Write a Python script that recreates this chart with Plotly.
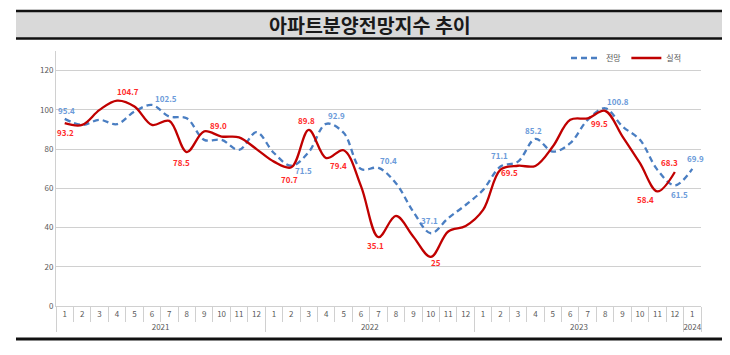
import plotly.graph_objects as go

# ---------------- data ----------------
years = ["2021"] * 12 + ["2022"] * 12 + ["2023"] * 12 + ["2024"]
months = ["1", "2", "3", "4", "5", "6", "7", "8", "9", "10", "11", "12",
          "1", "2", "3", "4", "5", "6", "7", "8", "9", "10", "11", "12",
          "1", "2", "3", "4", "5", "6", "7", "8", "9", "10", "11", "12",
          "1"]

forecast = [95.4, 92.3, 94.9, 92.7, 99.1, 102.5, 96.6, 95.7, 84.7, 84.7, 79.6, 88.6,
            78.0, 71.5, 78.5, 92.9, 88.3, 69.8, 70.4, 62.6, 48.0, 37.1, 44.8, 51.5,
            59.2, 71.1, 73.6, 85.2, 78.7, 83.0, 94.9, 100.8, 91.5, 84.7, 69.4, 61.5,
            69.9]
actual = [93.2, 92.3, 100.0, 104.7, 101.7, 92.3, 94.4, 78.5, 89.0, 86.4, 86.0, 80.0,
          73.6, 70.7, 89.8, 75.4, 79.4, 61.0, 35.1, 45.9, 35.3, 25, 38.0, 40.8,
          49.0, 69.5, 71.5, 71.4, 81.3, 94.9, 95.7, 99.5, 86.4, 72.8, 58.4, 68.3,
          None]

series_names = ["전망", "실적"]
title_text = "아파트분양전망지수 추이"
y_ticks = [0, 20, 40, 60, 80, 100, 120]

# labelled points (index into the series)
forecast_label_idx = [0, 5, 13, 15, 18, 21, 25, 27, 31, 35, 36]
actual_label_idx = [0, 3, 7, 8, 13, 14, 16, 18, 21, 25, 31, 34, 35]

# ---------------- label placement (pixel shifts) ----------------
forecast_label_shift = [(2, 8), (14, 6), (12, -5), (10, 8), (10, 7), (-1, 13),
                        (-1, 11), (-2, 8), (13, 7), (5, -9), (3, 10)]
actual_label_shift = [(1, -9), (11, 9), (-5, -10), (14, 6), (-2, -12), (-2, 9),
                      (-5, -15), (-3, -8), (5, -6), (9, -3), (-6, -13), (-12, -8), (-5, 10)]

# ---------------- styles ----------------
FONT = "Noto Sans CJK KR"
BLUE_LINE = "#4A7EC2"
RED_LINE = "#C00000"
BLUE_TXT = "#6C9BDA"
RED_TXT = "#FF2A2A"
GRID = "#D0D0D0"
AXIS_TXT = "#595959"

W, H = 730, 355
ML, MR, MT, MB = 56, 29, 51, 49
PW, PH = W - ML - MR, H - MT - MB


def px_x(X):
    return (X - ML) / PW


def px_y(Y):
    return (H - MB - Y) / PH


idx = list(range(len(months)))

fig = go.Figure()

fig.add_trace(go.Scatter(
    x=idx, y=forecast, name=series_names[0], mode="lines",
    line=dict(color=BLUE_LINE, width=2.3, dash="6px,4px", shape="spline", smoothing=1.0),
    hoverinfo="skip"))
fig.add_trace(go.Scatter(
    x=idx, y=actual, name=series_names[1], mode="lines",
    line=dict(color=RED_LINE, width=2.3, shape="spline", smoothing=1.0),
    hoverinfo="skip"))

# invisible trace that drives the two-level category axis
fig.add_trace(go.Scatter(
    x=[years, months], y=[None] * len(months), xaxis="x2", showlegend=False,
    mode="lines", hoverinfo="skip"))

annotations = []
for k, i in enumerate(forecast_label_idx):
    dx, dy = forecast_label_shift[k]
    annotations.append(dict(
        x=i, y=forecast[i], xref="x", yref="y", text=str(forecast[i]),
        showarrow=False, xshift=dx, yshift=dy,
        font=dict(family=FONT, size=8, color=BLUE_TXT, weight="bold")))
for k, i in enumerate(actual_label_idx):
    dx, dy = actual_label_shift[k]
    annotations.append(dict(
        x=i, y=actual[i], xref="x", yref="y", text=str(actual[i]),
        showarrow=False, xshift=dx, yshift=dy,
        font=dict(family=FONT, size=8, color=RED_TXT, weight="bold")))

# title
annotations.append(dict(
    x=px_x(370), y=px_y(24.5), xref="paper", yref="paper", text=title_text,
    showarrow=False, xanchor="center", yanchor="middle",
    font=dict(family=FONT, size=19.5, color="#1A1A1A", weight="bold")))

shapes = [
    dict(type="rect", xref="paper", yref="paper", x0=px_x(16), x1=px_x(722),
         y0=px_y(38), y1=px_y(11), fillcolor="#D9D9D9", line=dict(width=0), layer="below"),
    dict(type="line", xref="paper", yref="paper", x0=px_x(16), x1=px_x(722),
         y0=px_y(11), y1=px_y(11), line=dict(color="#111111", width=2.5)),
    dict(type="line", xref="paper", yref="paper", x0=px_x(16), x1=px_x(722),
         y0=px_y(38.5), y1=px_y(38.5), line=dict(color="#111111", width=2.5)),
    dict(type="line", xref="paper", yref="paper", x0=px_x(16), x1=px_x(722),
         y0=px_y(339), y1=px_y(339), line=dict(color="#111111", width=3)),
]

fig.update_layout(
    width=W, height=H,
    margin=dict(l=ML, r=MR, t=MT, b=MB, pad=0),
    paper_bgcolor="white", plot_bgcolor="white",
    font=dict(family=FONT, size=8, color=AXIS_TXT),
    showlegend=True,
    legend=dict(orientation="h", x=px_x(566), y=px_y(58), xanchor="left", yanchor="middle",
                font=dict(family=FONT, size=8, color=AXIS_TXT),
                bgcolor="rgba(0,0,0,0)", itemwidth=30, tracegroupgap=0),
    xaxis=dict(range=[-0.5, len(months) - 0.5], showgrid=False, zeroline=False,
               showticklabels=False, showline=False, ticks=""),
    xaxis2=dict(type="multicategory", overlaying="x", anchor="y", side="bottom",
                range=[-0.5, len(months) - 0.5], tickangle=0, automargin=False,
                showgrid=False, zeroline=False, showline=True, linecolor=GRID, linewidth=1,
                ticks="outside", tickson="boundaries", ticklen=15, tickcolor=GRID,
                showdividers=True, dividercolor=GRID, dividerwidth=1,
                tickfont=dict(family=FONT, size=8, color=AXIS_TXT)),
    yaxis=dict(range=[0, 130], tickvals=y_ticks, showgrid=True, gridcolor=GRID, gridwidth=1,
               zeroline=False, showline=True, linecolor=GRID, linewidth=1, ticks="",
               tickfont=dict(family=FONT, size=8, color=AXIS_TXT)),
    annotations=annotations,
    shapes=shapes,
)

fig.write_html("out.html", config={"displayModeBar": False},
               post_script="document.body.style.margin='0';")
